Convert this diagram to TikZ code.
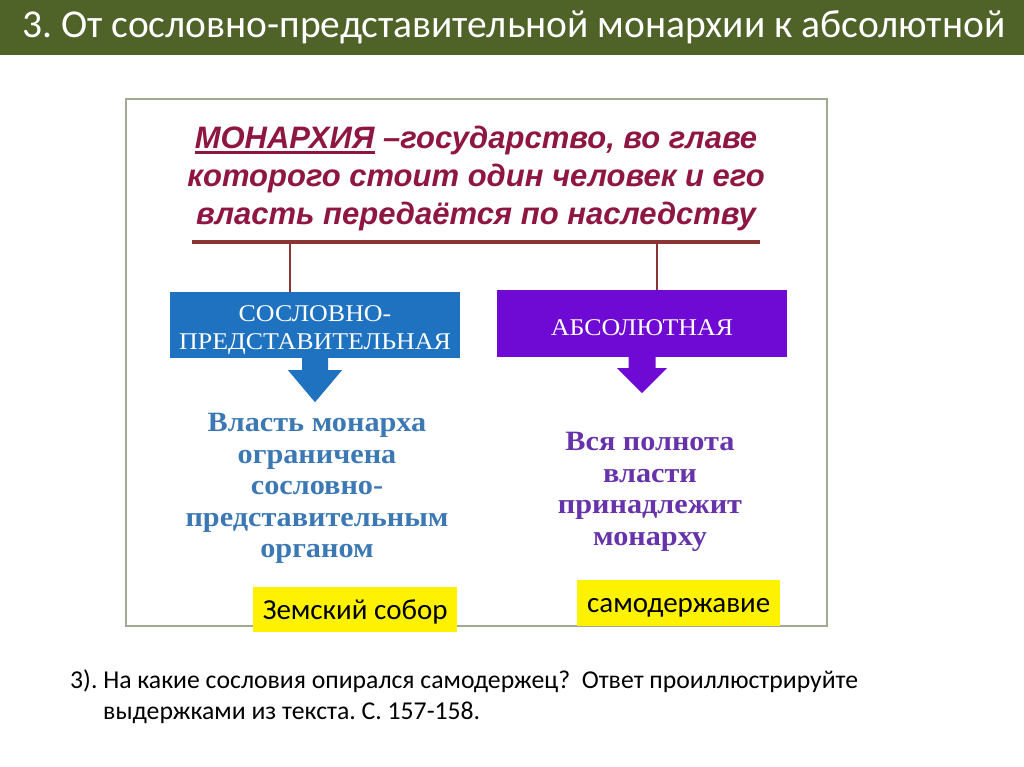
\documentclass[tikz,border=0pt]{standalone}
\usepackage{fontspec}
\setmainfont{Carlito}
\newfontfamily\arialfont{Liberation Sans}
\newfontfamily\booksfont[FakeStretch=1.08]{Liberation Serif}
\usetikzlibrary{positioning, calc}
\definecolor{titlegreen}{HTML}{4F6228}
\definecolor{framegray}{HTML}{A3AA94}
\definecolor{defred}{HTML}{8E1640}
\definecolor{rulebrown}{HTML}{8B3434}
\definecolor{estateblue}{HTML}{1E72C0}
\definecolor{absviolet}{HTML}{6F0AD4}
\definecolor{estatetext}{HTML}{3B78B4}
\definecolor{abstext}{HTML}{6633AA}
\frenchspacing
\newsavebox{\ulbox}
\newcommand{\thickul}[1]{\sbox{\ulbox}{#1}\rlap{\rule[-5pt]{\wd\ulbox}{3pt}}\usebox{\ulbox}}
\tikzset{
    titletext/.style={text=white, inner sep=0pt, font=\fontsize{39.5}{44}\selectfont},
    definition/.style={text=defred, align=center, inner sep=0pt,
        font=\arialfont\bfseries\itshape\fontsize{31}{38}\selectfont},
    kind/.style={rectangle, inner sep=0pt, minimum width=290pt, minimum height=66pt,
        text=white, align=center, text depth=0pt, font=\booksfont\fontsize{24}{28}\selectfont},
    note/.style={align=center, inner sep=0pt,
        font=\booksfont\bfseries\fontsize{28}{31.5}\selectfont},
    tag/.style={rectangle, fill=yellow, inner sep=0pt, text height=22pt, text depth=3pt,
        font=\fontsize{29}{32}\selectfont},
    rulebar/.style={draw=rulebrown, line width=4pt},
    tapline/.style={draw=rulebrown, line width=1.6pt}
}
\begin{document}
\begin{tikzpicture}[x=1pt, y=-1pt]
    \useasboundingbox (0,0) rectangle (1024,767);
    \fill[titlegreen] (0,0) rectangle (1024,55);
    \node[titletext, anchor=base west] (title) at (22,38) {3. От сословно-представительной монархии к абсолютной};

    \draw[framegray, line width=1.5pt] (126,99) rectangle (827,626);

    \node[definition, anchor=north] (def) at (476,126)
        {\thickul{МОНАРХИЯ} –государство, во главе\\которого стоит один человек и его\\власть передаётся по наследству};

    \coordinate (ruleW) at (192,242);
    \coordinate (ruleE) at (760,242);
    \coordinate (tapL) at (290,242);
    \coordinate (tapR) at (657,242);
    \draw[rulebar] (ruleW) -- (ruleE);

    \node[kind, fill=estateblue, text height=48pt] (estate) at (315,325) {СОСЛОВНО-\\ПРЕДСТАВИТЕЛЬНАЯ};
    \node[kind, fill=absviolet, text height=24pt, minimum height=67pt] (absolute) at (642,323.5) {АБСОЛЮТНАЯ};

    \draw[tapline] (tapL) -- (tapL |- estate.north);
    \draw[tapline] (tapR) -- (tapR |- absolute.north);

    % block arrows under the two kinds
    \fill[estateblue] ($(estate.south)+(-13,-1)$) -- ++(0,13) -- ++(-14,0)
        -- ($(estate.south)+(0,44)$) -- ($(estate.south)+(27,12)$) -- ++(-14,0)
        -- ($(estate.south)+(13,-1)$) -- cycle;
    \fill[absviolet] ($(absolute.south)+(-13.5,-1)$) -- ++(0,12) -- ++(-11.5,0)
        -- ($(absolute.south)+(0,36)$) -- ($(absolute.south)+(25,11)$) -- ++(-11.5,0)
        -- ($(absolute.south)+(13.5,-1)$) -- cycle;

    \node[note, text=estatetext, anchor=north] (estatenote) at (317,413)
        {Власть монарха\\ограничена\\сословно-\\представительным\\органом};
    \node[note, text=abstext, anchor=north] (absnote) at (650,432)
        {Вся полнота\\власти\\принадлежит\\монарху};

    \node[tag, anchor=north west, minimum width=204pt, minimum height=45pt] (zemsky) at (253,587) {Земский собор};
    \node[tag, anchor=north west, minimum width=203pt, minimum height=46pt] (autocracy) at (577,580) {самодержавие};

    \node[anchor=base west, align=left, inner sep=0pt, font=\fontsize{25.7}{31}\selectfont] (question) at (70,719)
        {3). На какие сословия опирался самодержец?\ \ Ответ проиллюстрируйте\\\hspace*{33pt}выдержками из текста. С. 157-158.};
\end{tikzpicture}
\end{document}
